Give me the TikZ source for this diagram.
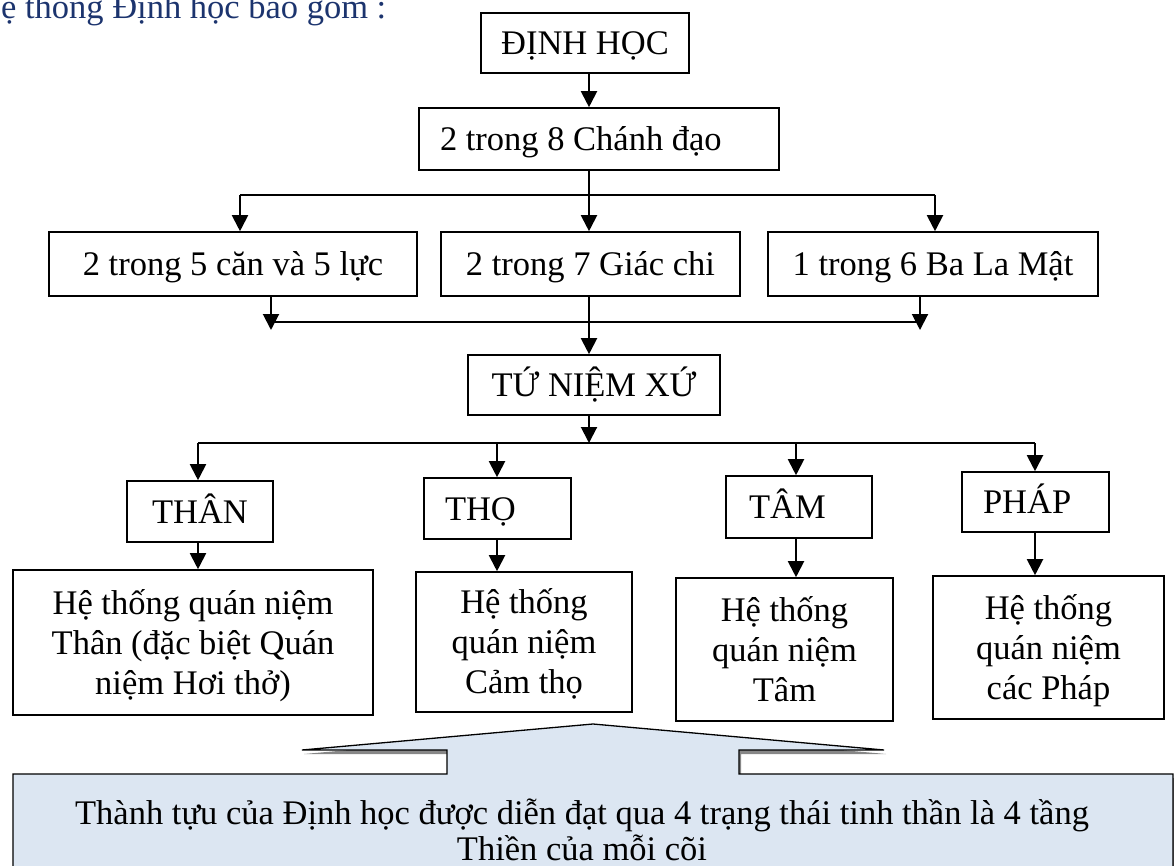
\documentclass[tikz,border=0pt]{standalone}
\usepackage{fontspec}
\setmainfont{Liberation Serif}
\usetikzlibrary{arrows.meta,calc}
\definecolor{titleblue}{RGB}{28,52,110}
\definecolor{calloutfill}{RGB}{220,230,242}
\definecolor{shadowgray}{RGB}{135,135,135}
\newcommand{\bigfont}{\fontsize{34.5}{40}\selectfont}
\newcommand{\calfont}{\fontsize{34.5}{36}\selectfont}
\begin{document}
\begin{tikzpicture}[x=1pt,y=-1pt,
  box/.style={draw, line width=1.6pt, inner sep=0pt, text height=23pt, text depth=0pt, font=\bigfont},
  mbox/.style={box, align=center, text height=103pt, text depth=0pt},
  arr/.style={line width=2pt, -{Triangle[width=16pt,length=16pt]}},
  conn/.style={line width=2pt}]
\useasboundingbox (0,0) rectangle (1174,866);
\clip (0,0) rectangle (1174,866);

% title
\node[anchor=base west, text=titleblue, font=\bigfont, inner sep=0pt] (title) at (-24,19) {Hệ thống Định học bao gồm :};

% top
\node[box, minimum width=208pt, minimum height=60pt] (dh) at (585,43) {ĐỊNH HỌC};
\node[box, minimum height=62pt, text width=318pt, inner xsep=21pt, align=flush left] (cd) at (599,139) {2 trong 8 Chánh đạo};

\node[box, minimum width=368pt, minimum height=64pt] (cl) at (233,264) {2 trong 5 căn và 5 lực};
\node[box, minimum width=299pt, minimum height=64pt] (gc) at (590.5,264) {2 trong 7 Giác chi};
\node[box, minimum width=330pt, minimum height=64pt] (blm) at (933,264) {1 trong 6 Ba La Mật};

\node[box, minimum width=252pt, minimum height=60pt] (tnx) at (594,385) {TỨ NIỆM XỨ};

\node[box, minimum width=146pt, minimum height=61pt] (than) at (200,511.5) {THÂN};
\node[box, minimum height=61pt, text width=105pt, inner xsep=21pt, align=flush left] (tho) at (497.5,508.5) {THỌ};
\node[box, minimum height=62pt, text width=100pt, inner xsep=23pt, align=flush left] (tam) at (799,507) {TÂM};
\node[box, minimum height=60pt, text width=105pt, inner xsep=21pt, align=flush left] (phap) at (1035.5,502) {PHÁP};

\node[mbox, minimum width=360pt, minimum height=145pt] (qthan) at (193,642.5) {Hệ thống quán niệm\\Thân (đặc biệt Quán\\niệm Hơi thở)};
\node[mbox, minimum width=216pt, minimum height=140pt] (qtho) at (524,642) {Hệ thống\\quán niệm\\Cảm thọ};
\node[mbox, minimum width=217pt, minimum height=143pt] (qtam) at (784.5,649.5) {Hệ thống\\quán niệm\\Tâm};
\node[mbox, minimum width=231pt, minimum height=143pt] (qphap) at (1048.5,647.5) {Hệ thống\\quán niệm\\các Pháp};

% connectors, level 1
\draw[arr] ([xshift=4pt]dh.south) -- ([xshift=4pt]dh.south |- cd.north);
\coordinate (j1) at (589,195);
\coordinate (hl) at (240,195);
\coordinate (hr) at (935,195);
\draw[conn] ([xshift=-10pt]cd.south) -- (j1);
\draw[conn] (hl) -- (hr);
\draw[arr] (hl) -- (hl |- cl.north);
\draw[arr] (j1) -- (j1 |- gc.north);
\draw[arr] (hr) -- (hr |- blm.north);

% level 2 join
\coordinate (bl) at (271,322);
\coordinate (br) at (920,322);
\coordinate (blt) at (271,330);
\coordinate (brt) at (920,330);
\draw[conn] (bl) -- (br);
\draw[arr] (blt |- cl.south) -- (blt);
\draw[arr] (brt |- blm.south) -- (brt);
\draw[arr] (j1 |- gc.south) -- (j1 |- tnx.north);

% level 3
\coordinate (j2) at (589,443);
\coordinate (h2l) at (198,443);
\coordinate (h2b) at (497,443);
\coordinate (h2c) at (796,443);
\coordinate (h2r) at (1035,443);
\draw[arr] (j2 |- tnx.south) -- (j2);
\draw[conn] (h2l) -- (h2r);
\draw[arr] (h2l) -- (h2l |- than.north);
\draw[arr] (h2b) -- (h2b |- tho.north);
\draw[arr] (h2c) -- (h2c |- tam.north);
\draw[arr] (h2r) -- (h2r |- phap.north);
\draw[arr] (h2l |- than.south) -- (h2l |- qthan.north);
\draw[arr] (h2b |- tho.south) -- (h2b |- qtho.north);
\draw[arr] (h2c |- tam.south) -- (h2c |- qtam.north);
\draw[arr] (h2r |- phap.south) -- (h2r |- qphap.north);

% callout
\begin{scope}[shift={(2,4)}]
\fill[shadowgray] (13,774) -- (447,774) -- (447,750) -- (302,750) -- (593,724) -- (884,750) -- (739,750) -- (739,774) -- (1173,774) -- (1173,900) -- (13,900) -- cycle;
\end{scope}
\filldraw[fill=calloutfill, draw=black, line width=1.3pt] (13,774) -- (447,774) -- (447,750) -- (302,750) -- (593,724) -- (884,750) -- (739,750) -- (739,774) -- (1173,774) -- (1173,900) -- (13,900) -- cycle;
\node[font=\calfont, align=center, text height=59pt, text depth=0pt, inner sep=0pt] (ctext) at (582,830.5) {Thành tựu của Định học được diễn đạt qua 4 trạng thái tinh thần là 4 tầng\\Thiền của mỗi cõi};
\end{tikzpicture}
\end{document}
